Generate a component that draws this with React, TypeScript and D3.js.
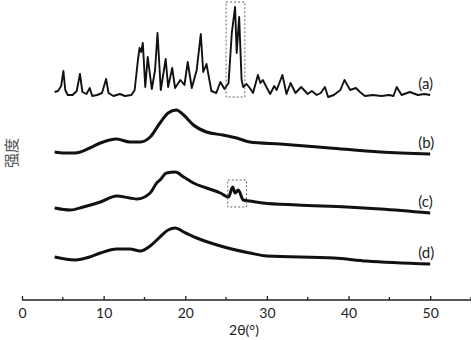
import { useEffect, useRef } from 'react';
import * as d3 from 'd3';

// XRD patterns, intensity in a.u. relative to each curve's own base
const aX = [4.0, 4.4, 4.8, 5.07, 5.3, 5.6, 6.2, 6.7, 7.1, 7.4, 7.9, 8.3, 8.6, 9.2, 9.8, 10.3, 10.6, 11.2, 12.0, 12.6, 13.4, 13.8, 14.2, 14.4, 14.6, 14.8, 15.1, 15.4, 15.9, 16.3, 16.6, 17.0, 17.6, 17.9, 18.4, 18.75, 19.4, 19.9, 20.3, 20.8, 21.4, 21.9, 22.2, 22.6, 23.2, 23.8, 24.3, 24.8, 25.3, 25.7, 26.1, 26.3, 26.6, 26.9, 27.1, 27.5, 27.9, 28.3, 28.9, 29.2, 29.5, 30.0, 30.4, 30.9, 31.2, 31.9, 32.4, 32.9, 33.5, 34.2, 35.0, 35.5, 36.1, 36.6, 37.1, 37.5, 38.2, 39.0, 39.5, 40.2, 40.9, 41.4, 42.0, 43.0, 44.0, 45.0, 45.5, 45.9, 46.5, 47.5, 48.5, 49.3, 50.0];
const aY = [50, 60, 110, 260, 70, 20, 20, 60, 230, 50, 30, 90, 10, 20, 40, 180, 40, 10, 30, 10, 20, 70, 370, 490, 450, 540, 100, 400, 80, 270, 640, 70, 380, 100, 290, 90, 170, 120, 350, 90, 270, 630, 250, 330, 60, 40, 150, 80, 140, 640, 900, 440, 800, 170, 100, 130, 90, 40, 220, 140, 170, 90, 30, 110, 70, 220, 30, 140, 40, 100, 30, 60, 20, 40, 100, 0, 20, 70, 170, 70, 90, 50, 10, 20, 10, 20, 10, 100, 20, 50, 20, 30, 20];

const bX = [4, 5.2, 6.5, 8.3, 9.6, 11.6, 13.2, 14.5, 15.7, 16.9, 17.9, 18.9, 19.8, 21, 22.6, 24.6, 26.3, 27.9, 31.6, 37.7, 43.9, 50];
const bY = [20, 10, 10, 60, 110, 150, 120, 120, 170, 310, 410, 440, 390, 290, 220, 190, 160, 120, 100, 60, 20, 0];

const cX = [4, 5.9, 7.5, 9.6, 11.6, 13.2, 14.1, 15.7, 16.5, 16.9, 17.7, 18.8, 19.8, 21, 22.6, 24.3, 25.3, 25.8, 26.1, 26.5, 27.1, 27.9, 29.5, 33.7, 39.8, 43.9, 50];
const cY = [50, 30, 60, 110, 170, 150, 140, 200, 300, 330, 400, 410, 360, 300, 250, 200, 160, 260, 200, 230, 130, 120, 100, 80, 60, 40, 0];

const dX = [4, 6.5, 8.3, 9.6, 11.6, 13.2, 14.5, 15.7, 16.9, 17.9, 18.8, 19.8, 21.4, 23.9, 27.9, 30, 38.2, 42.2, 50];
const dY = [70, 40, 70, 110, 150, 150, 130, 180, 270, 340, 360, 320, 260, 190, 110, 80, 60, 30, 0];

const labels = ['(a)', '(b)', '(c)', '(d)'];
const offsets = [2030, 1460, 870, 360];

// dashed boxes around the 26° peaks: [x0, x1, y0, y1] in curve units
const boxA = [25.0, 27.3, 0, 950];
const boxC = [25.2, 27.5, 60, 330];

const xTicks = [0, 10, 20, 30, 40, 50];
const xMinor = [5, 15, 25, 35, 45, 55];

export default function App() {
  const svgRef = useRef<SVGSVGElement>(null);

  useEffect(() => {
    if (!svgRef.current) return;
    const svg = d3.select(svgRef.current);
    svg.selectAll('*').remove();

    const x = d3.scaleLinear().domain([0, 55]).range([22, 471]);
    const y = d3.scaleLinear().domain([0, 3000]).range([300, 0]);

    const series = [
      { xs: aX, ys: aY, w: 1.9, curve: d3.curveLinear },
      { xs: bX, ys: bY, w: 3, curve: d3.curveMonotoneX },
      { xs: cX, ys: cY, w: 3, curve: d3.curveMonotoneX },
      { xs: dX, ys: dY, w: 3, curve: d3.curveMonotoneX },
    ];

    series.forEach((s, i) => {
      const pts = s.xs.map((v, j) => [v, s.ys[j] + offsets[i]] as [number, number]);
      const line = d3.line<[number, number]>()
        .x((d) => x(d[0]))
        .y((d) => y(d[1]))
        .curve(s.curve);
      svg.append('path').datum(pts)
        .attr('fill', 'none').attr('stroke', '#111').attr('stroke-width', s.w)
        .attr('stroke-linejoin', 'round').attr('d', line);

      const last = pts[pts.length - 1];
      svg.append('text')
        .attr('x', x(last[0]) - 12).attr('y', y(last[1]) - 6)
        .attr('font-family', 'Lato, "Open Sans", sans-serif').attr('font-size', 15)
        .attr('fill', '#222').text(labels[i]);
    });

    [[boxA, offsets[0]], [boxC, offsets[2]]].forEach(([b, off]) => {
      const bb = b as number[];
      const o = off as number;
      svg.append('rect')
        .attr('x', x(bb[0])).attr('y', y(bb[3] + o))
        .attr('width', x(bb[1]) - x(bb[0])).attr('height', y(bb[2] + o) - y(bb[3] + o))
        .attr('fill', 'none').attr('stroke', '#666').attr('stroke-width', 1)
        .attr('stroke-dasharray', '2,2');
    });

    const ax = svg.append('g').attr('transform', `translate(0,${y(0)})`);
    ax.call(d3.axisBottom(x).tickValues(xTicks).tickSize(-4).tickPadding(8).tickFormat(d3.format('d')));
    ax.selectAll('text').attr('font-family', 'Lato, "Open Sans", sans-serif').attr('font-size', 14).attr('fill', '#222');
    ax.select('.domain').attr('d', `M${x(0)},0H${x(55)}`);
    ax.selectAll('.domain, .tick line').attr('stroke', '#222').attr('stroke-width', 1.3);
    ax.selectAll('.minor').data(xMinor).join('line')
      .attr('x1', (d) => x(d)).attr('x2', (d) => x(d))
      .attr('y1', 0).attr('y2', -3)
      .attr('stroke', '#222').attr('stroke-width', 1.3);

    svg.append('text')
      .attr('x', 244).attr('y', 335).attr('text-anchor', 'middle')
      .attr('font-family', 'Lato, "Open Sans", sans-serif').attr('font-size', 14).attr('fill', '#222')
      .text('2θ(°)');

    svg.append('text')
      .attr('transform', 'translate(17,153) rotate(-90)').attr('text-anchor', 'middle')
      .attr('font-family', '"Noto Sans CJK SC", sans-serif').attr('font-size', 15).attr('fill', '#555')
      .text('强度');
  }, []);

  return (
    <svg ref={svgRef} width={471} height={340}
      style={{ position: 'absolute', left: 0, top: 0, background: '#fff' }} />
  );
}
